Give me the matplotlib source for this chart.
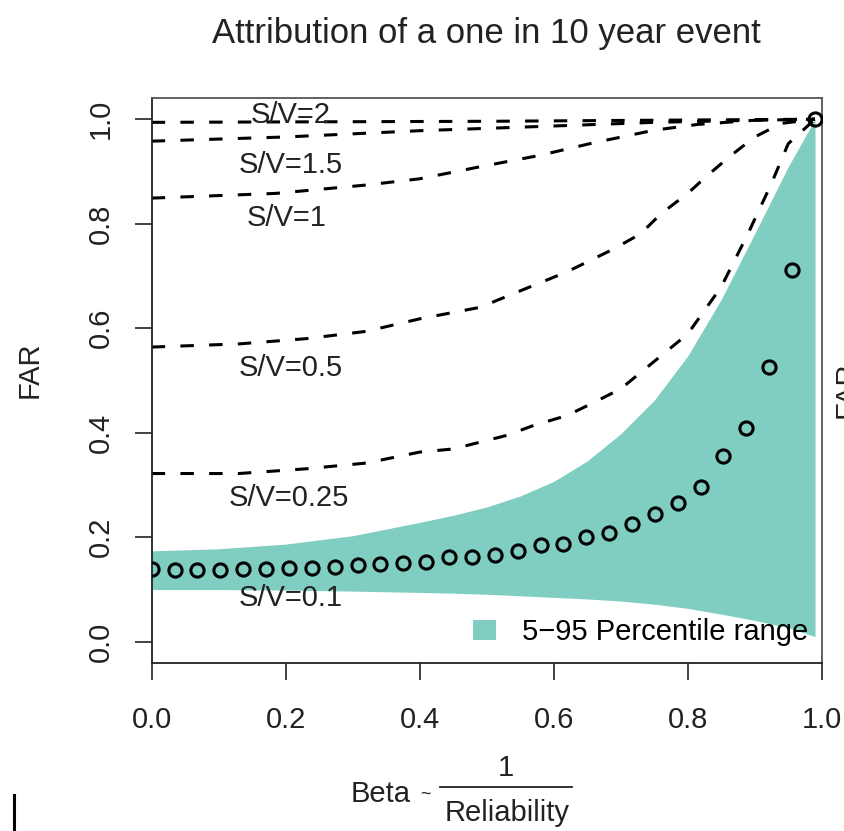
import matplotlib
matplotlib.use("Agg")
import matplotlib.pyplot as plt
from matplotlib.lines import Line2D

plt.rcParams['font.family'] = ['Liberation Sans', 'DejaVu Sans']

# ---- data ----
beta = [0.0, 0.0341, 0.0683, 0.1024, 0.1366, 0.1707, 0.2048, 0.2390, 0.2731, 0.3072,
        0.3414, 0.3755, 0.4097, 0.4438, 0.4779, 0.5121, 0.5462, 0.5803, 0.6145, 0.6486,
        0.6828, 0.7169, 0.7510, 0.7852, 0.8193, 0.8534, 0.8876, 0.9217, 0.9559, 0.99]
far_points = [0.139, 0.137, 0.137, 0.138, 0.139, 0.140, 0.141, 0.142, 0.144, 0.146,
              0.148, 0.150, 0.152, 0.1615, 0.163, 0.1667, 0.174, 0.185, 0.187, 0.201,
              0.2075, 0.2254, 0.2446, 0.265, 0.297, 0.356, 0.409, 0.525, 0.711, 1.0]

band_x = [0.0, 0.1, 0.2, 0.3, 0.4, 0.45, 0.5, 0.55, 0.6, 0.65, 0.7, 0.75, 0.8, 0.85, 0.9, 0.95, 0.99]
band_upper = [0.174, 0.178, 0.187, 0.203, 0.2285, 0.242, 0.258, 0.279, 0.307, 0.346, 0.398,
              0.462, 0.547, 0.655, 0.781, 0.909, 1.0]
band_lower = [0.100, 0.100, 0.099, 0.097, 0.0945, 0.093, 0.091, 0.088, 0.085, 0.082, 0.078,
              0.072, 0.064, 0.053, 0.041, 0.027, 0.010]

sv025_x = [0, 0.13, 0.23, 0.32, 0.4, 0.45, 0.49, 0.53, 0.57, 0.62, 0.66, 0.7, 0.8, 0.85, 0.89, 0.925, 0.95, 0.99]
sv025_y = [0.322, 0.322, 0.331, 0.342, 0.363, 0.369, 0.382, 0.395, 0.414, 0.433, 0.458, 0.484,
           0.589, 0.679, 0.781, 0.877, 0.953, 1.0]
sv05_x = [0, 0.13, 0.23, 0.32, 0.4, 0.49, 0.57, 0.62, 0.69, 0.73, 0.76, 0.8, 0.83, 0.865, 0.9, 0.94, 0.99]
sv05_y = [0.564, 0.570, 0.580, 0.594, 0.618, 0.640, 0.682, 0.708, 0.752, 0.781, 0.819, 0.858,
          0.893, 0.931, 0.966, 0.992, 1.0]
sv1_x = [0, 0.185, 0.32, 0.4, 0.49, 0.58, 0.66, 0.75, 0.815, 0.9, 0.99]
sv1_y = [0.849, 0.858, 0.874, 0.886, 0.909, 0.931, 0.955, 0.979, 0.990, 0.998, 1.0]
sv15_x = [0, 0.2, 0.4, 0.6, 0.75, 0.9, 0.99]
sv15_y = [0.958, 0.966, 0.978, 0.987, 0.994, 0.998, 1.0]
sv2_x = [0, 0.5, 0.99]
sv2_y = [0.994, 0.996, 1.0]

sv_labels = ["S/V=2", "S/V=1.5", "S/V=1", "S/V=0.5", "S/V=0.25", "S/V=0.1"]
sv_label_x = [0.207, 0.207, 0.202, 0.207, 0.205, 0.207]
sv_label_y = [1.008, 0.912, 0.81, 0.523, 0.276, 0.084]

xticks = [0.0, 0.2, 0.4, 0.6, 0.8, 1.0]
yticks = [0.0, 0.2, 0.4, 0.6, 0.8, 1.0]
tick_labels = ["0.0", "0.2", "0.4", "0.6", "0.8", "1.0"]

band_color = "#80CDC1"

# ---- figure ----
W, H = 845, 831
fig = plt.figure(figsize=(W / 100, H / 100), dpi=100)
left, right, top, bottom = 151.7, 821.7, 98.3, 662.7
ax = fig.add_axes([left / W, 1 - bottom / H, (right - left) / W, (bottom - top) / H])
ax.set_xlim(0, 1)
ax.set_ylim(-0.04, 1.04)

ax.fill_between(band_x, band_lower, band_upper, color=band_color, lw=0, zorder=1,
                label="5\u221295 Percentile range")

for xs, ys in [(sv025_x, sv025_y), (sv05_x, sv05_y), (sv1_x, sv1_y), (sv15_x, sv15_y), (sv2_x, sv2_y)]:
    ax.plot(xs, ys, color="black", lw=2.2, dashes=(4.4, 5.0), zorder=2)

ax.plot(beta, far_points, linestyle="none", marker="o", ms=9.5, mfc="none",
        mec="black", mew=2.2, zorder=3)

for t, lx, ly in zip(sv_labels, sv_label_x, sv_label_y):
    ax.text(lx, ly, t, ha="center", va="center", fontsize=21, color="#222222", zorder=4)

ax.set_xticks(xticks)
ax.set_xticklabels(tick_labels)
ax.set_yticks(yticks)
ax.set_yticklabels(tick_labels)
ax.tick_params(axis="both", direction="out", length=12.5, width=1.2, labelsize=21,
               colors="#222222", labelcolor="#222222")
ax.tick_params(axis="x", pad=19)
ax.tick_params(axis="y", pad=14)
for lbl in ax.get_yticklabels():
    lbl.set_rotation(90)
    lbl.set_va("center")
    lbl.set_ha("right")
for name, sp in ax.spines.items():
    sp.set_linewidth(1.3)
    sp.set_color("#222222" if name in ("left", "bottom") else "#555555")

leg = ax.legend(loc="lower right", frameon=False, fontsize=21, handlelength=0.8,
                handleheight=0.7, handletextpad=0.9, borderaxespad=0.0,
                bbox_to_anchor=(0.998, 0.009))

# ---- texts ----
fig.text(486.5 / W, 1 - 34 / H, "Attribution of a one in 10 year event", ha="center",
         va="center", fontsize=25, color="#222222")
fig.text(30 / W, 1 - 370 / H, "FAR", rotation=90, ha="center", va="center",
         fontsize=21, color="#222222")
fig.text(833 / W, 1 - 390 / H, "FAR", rotation=90, ha="left", va="center",
         fontsize=21, color="#222222")

# x label: Beta ~ 1 / Reliability
fig.text(411 / W, 1 - 794 / H, "Beta", ha="right", va="center", fontsize=21, color="#222222")
fig.text(425 / W, 1 - 794 / H, "~", ha="center", va="center", fontsize=13, color="#222222")
fig.text(506 / W, 1 - 768 / H, "1", ha="center", va="center", fontsize=21, color="#222222")
fig.text(507 / W, 1 - 813 / H, "Reliability", ha="center", va="center", fontsize=21, color="#222222")
fig.add_artist(Line2D([440 / W, 572 / W], [1 - 787 / H, 1 - 787 / H], color="#222222", lw=1.3))

# cropped mark at bottom left
fig.add_artist(Line2D([14 / W, 14 / W], [0, 36 / H], color="black", lw=2.2))

fig.savefig("out.png", dpi=100)
